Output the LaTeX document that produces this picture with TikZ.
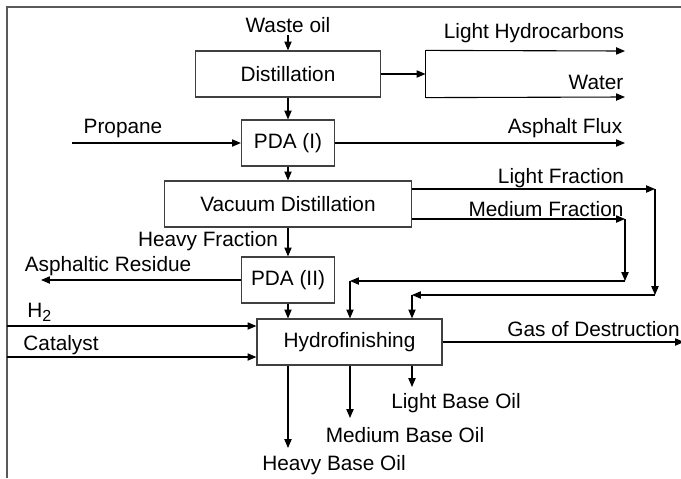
\documentclass[tikz,border=0pt]{standalone}
\usepackage{fontspec}
\setmainfont{Liberation Sans}
\usetikzlibrary{arrows.meta}
\tikzset{
  unit/.style={draw=black!75, line width=0.6pt, minimum height=23pt, inner sep=0},
  flow/.style={-{Triangle[length=4.4pt,width=3.6pt]}, line width=0.55pt},
  line/.style={line width=0.55pt},
  lbl/.style={inner sep=0}
}
\begin{document}
\begin{tikzpicture}[x=0.5pt, y=-0.5pt, font=\fontsize{10.4}{12}\selectfont]
\useasboundingbox (0,0) rectangle (681,478);
\draw[black!65, line width=1pt] (7,478) -- (7,7) -- (681,7);
% units
\node[unit, minimum width=92.75pt] (dist) at (288,74) {Distillation};
\node[unit, minimum width=46.5pt] (pdaI) at (288,143) {PDA (I)};
\node[unit, minimum width=123.5pt] (vac) at (288,204) {Vacuum Distillation};
\node[unit, minimum width=46.5pt] (pdaII) at (288,280) {PDA (II)};
\node[unit, minimum width=92.5pt] (hyd) at (349.5,342) {Hydrofinishing};
% labels
\node[lbl] (waste) at (288,25) {Waste oil};
\node[lbl] (lhc) at (534,33) {Light Hydrocarbons};
\node[lbl] (water) at (596,82) {Water};
\node[lbl] (propane) at (123,128) {Propane};
\node[lbl] (flux) at (565,128) {Asphalt Flux};
\node[lbl] (lfrac) at (561,178) {Light Fraction};
\node[lbl] (mfrac) at (546,209) {Medium Fraction};
\node[lbl] (hfrac) at (208,241) {Heavy Fraction};
\node[lbl] (resid) at (108,266) {Asphaltic Residue};
\node[lbl, anchor=west] (htwo) at (27,312) {H\textsubscript{\footnotesize 2}};
\node[lbl] (cat) at (61,345) {Catalyst};
\node[lbl, anchor=east] (gas) at (680,329) {Gas of Destruction};
\node[lbl] (lbo) at (456,403) {Light Base Oil};
\node[lbl] (mbo) at (405,435) {Medium Base Oil};
\node[lbl] (hbo) at (334,465) {Heavy Base Oil};
% free ends
\coordinate (split) at (425.5,74);
\coordinate (lhcend) at (625,51);
\coordinate (watend) at (625,97);
\coordinate (propin) at (72,143);
\coordinate (fluxend) at (625,143);
\coordinate (lfa) at (655,189);
\coordinate (lfb) at (655,295);
\coordinate (lfc) at (412,295);
\coordinate (mfa) at (625,219);
\coordinate (mfb) at (625,281);
\coordinate (mfc) at (350,281);
\coordinate (residend) at (41,280);
\coordinate (htwoin) at (7,326);
\coordinate (catin) at (7,357);
\coordinate (gasend) at (684,342);
\coordinate (hboend) at (288,448);
\coordinate (mboend) at (350,418);
\coordinate (lboend) at (412,387);
% connectors
\draw[flow] (288,35) -- (dist);
\draw[flow] (dist) -- (split);
\draw[line] (split |- dist.north) -- (split |- dist.south);
\draw[flow] (split |- dist.north) -- (lhcend);
\draw[flow] (split |- dist.south) -- (watend);
\draw[flow] (dist) -- (pdaI);
\draw[flow] (propin) -- (pdaI);
\draw[flow] (pdaI) -- (fluxend);
\draw[flow] (pdaI) -- (vac);
\draw[flow] (vac.east |- lfa) -- (lfa);
\draw[flow] (lfa) -- (lfb);
\draw[flow] (lfb) -- (lfc);
\draw[flow] (lfc) -- (lfc |- hyd.north);
\draw[flow] (vac.east |- mfa) -- (mfa);
\draw[flow] (mfa) -- (mfb);
\draw[flow] (mfb) -- (mfc);
\draw[flow] (mfc) -- (mfc |- hyd.north);
\draw[flow] (vac) -- (pdaII);
\draw[flow] (pdaII) -- (residend);
\draw[flow] (pdaII.south) -- (pdaII.south |- hyd.north);
\draw[flow] (htwoin) -- (htwoin -| hyd.west);
\draw[flow] (catin) -- (catin -| hyd.west);
\draw[flow] (hyd) -- (gasend);
\draw[flow] (hboend |- hyd.south) -- (hboend);
\draw[flow] (mboend |- hyd.south) -- (mboend);
\draw[flow] (lboend |- hyd.south) -- (lboend);
\end{tikzpicture}
\end{document}
